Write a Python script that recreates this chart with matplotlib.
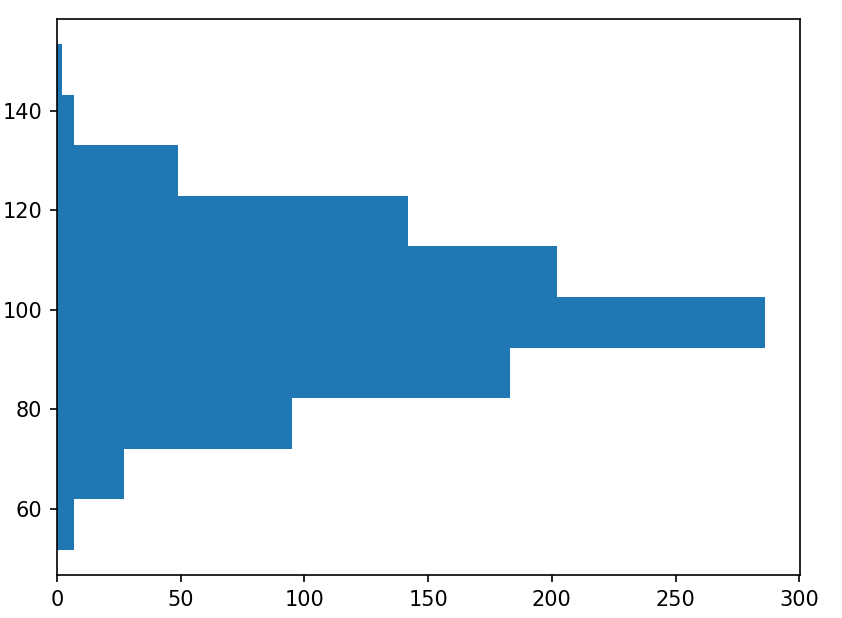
import matplotlib; matplotlib.use("Agg")
import matplotlib.pyplot as plt
import numpy as np

# histogram bin edges (value axis) and counts per bin
bin_lo = 51.8
bin_width = 10.15
counts = [7, 27, 95, 183, 286, 202, 142, 49, 7, 2]

edges = bin_lo + bin_width * np.arange(len(counts) + 1)
centers = (edges[:-1] + edges[1:]) / 2

fig = plt.figure(figsize=(842/150, 618/150), dpi=150)
ax = fig.add_axes([57/842, 43/618, 743/842, 556/618])
ax.hist(centers, bins=edges, weights=counts, orientation="horizontal", color="#1f77b4")
ax.set_xlim(0, 300.3)
ax.set_xticks([0, 50, 100, 150, 200, 250, 300])
ax.set_yticks([60, 80, 100, 120, 140])

fig.savefig("out.png", dpi=150)
